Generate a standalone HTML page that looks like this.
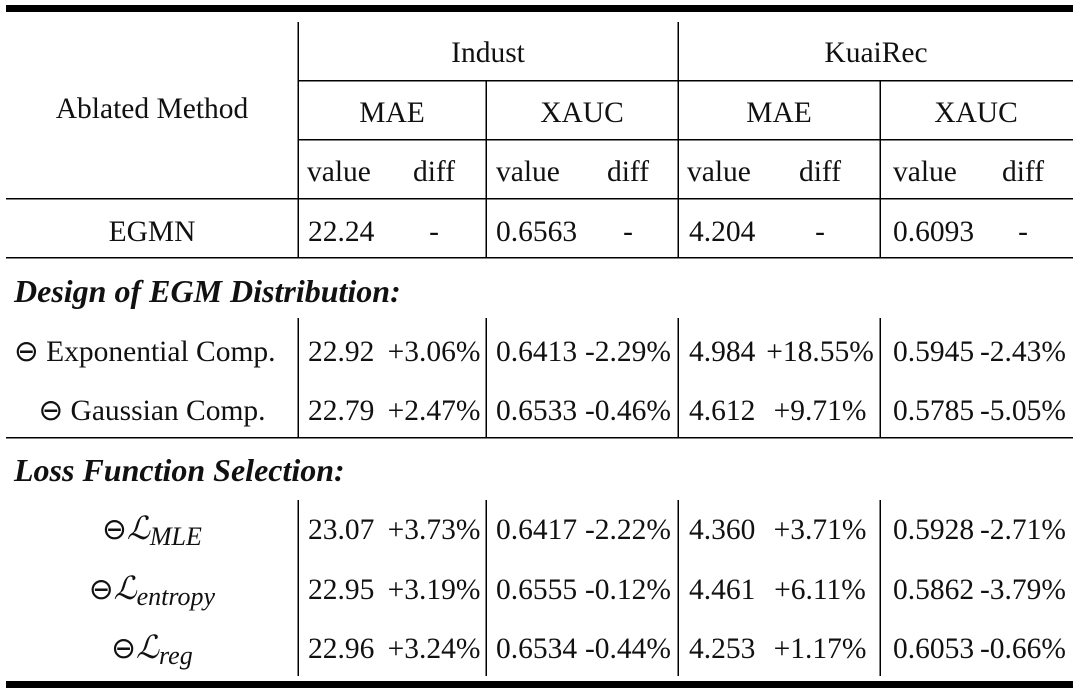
<!DOCTYPE html>
<html><head><meta charset="utf-8"><style>
html,body{margin:0;padding:0;background:#fff;}
svg text{font-family:"Liberation Serif",serif;font-size:29.5px;fill:#111;}
.c{text-anchor:middle;}
.b{font-weight:bold;font-style:italic;font-size:32px;}
</style></head><body>
<svg width="1080" height="694" viewBox="0 0 1080 694" xmlns="http://www.w3.org/2000/svg">
<g fill="#000">
<rect x="6" y="5" width="1067" height="7"/>
<rect x="6" y="681" width="1067" height="7"/>
<rect x="298" y="80" width="775" height="1.5"/>
<rect x="298" y="139" width="775" height="1.5"/>
<rect x="6" y="198" width="1067" height="1.5"/>
<rect x="6" y="257" width="1067" height="1.5"/>
<rect x="6" y="437" width="1067" height="1.5"/>
<rect x="297.5" y="22" width="1.5" height="236"/>
<rect x="677.5" y="22" width="1.5" height="236"/>
<rect x="485.5" y="80" width="1.5" height="178"/>
<rect x="879.5" y="80" width="1.5" height="178"/>
<rect x="297.5" y="318" width="1.5" height="120"/>
<rect x="485.5" y="318" width="1.5" height="120"/>
<rect x="677.5" y="318" width="1.5" height="120"/>
<rect x="879.5" y="318" width="1.5" height="120"/>
<rect x="297.5" y="500" width="1.5" height="176"/>
<rect x="485.5" y="500" width="1.5" height="176"/>
<rect x="677.5" y="500" width="1.5" height="176"/>
<rect x="879.5" y="500" width="1.5" height="176"/>
</g>
<text x="152" y="118" class="c">Ablated Method</text>
<text x="488" y="62" class="c">Indust</text>
<text x="876" y="62" class="c">KuaiRec</text>
<text x="392" y="122" class="c">MAE</text>
<text x="582" y="122" class="c">XAUC</text>
<text x="779" y="122" class="c">MAE</text>
<text x="976" y="122" class="c">XAUC</text>
<g>
<text x="307" y="181">value</text><text x="434" y="181" class="c">diff</text>
<text x="496" y="181">value</text><text x="628" y="181" class="c">diff</text>
<text x="687" y="181">value</text><text x="820" y="181" class="c">diff</text>
<text x="893" y="181">value</text><text x="1023" y="181" class="c">diff</text>
</g>
<text x="152" y="241" class="c">EGMN</text>
<text x="308" y="241">22.24</text><text x="434" y="241" class="c">-</text>
<text x="496" y="241">0.6563</text><text x="628" y="241" class="c">-</text>
<text x="689" y="241">4.204</text><text x="820" y="241" class="c">-</text>
<text x="893" y="241">0.6093</text><text x="1023" y="241" class="c">-</text>
<text x="14" y="302" class="b">Design of EGM Distribution:</text>
<text x="14" y="361">⊖ Exponential Comp.</text>
<text x="308" y="361">22.92</text><text x="434" y="361" class="c">+3.06%</text>
<text x="496" y="361">0.6413</text><text x="628" y="361" class="c">-2.29%</text>
<text x="689" y="361">4.984</text><text x="820" y="361" class="c">+18.55%</text>
<text x="893" y="361">0.5945</text><text x="1023" y="361" class="c">-2.43%</text>
<text x="152" y="420" class="c">⊖ Gaussian Comp.</text>
<text x="308" y="420">22.79</text><text x="434" y="420" class="c">+2.47%</text>
<text x="496" y="420">0.6533</text><text x="628" y="420" class="c">-0.46%</text>
<text x="689" y="420">4.612</text><text x="820" y="420" class="c">+9.71%</text>
<text x="893" y="420">0.5785</text><text x="1023" y="420" class="c">-5.05%</text>
<text x="14" y="481" class="b">Loss Function Selection:</text>
<text x="152" y="539" class="c">⊖<tspan font-style="italic" font-size="32">ℒ</tspan><tspan font-style="italic" font-size="26" dy="6">MLE</tspan></text>
<text x="308" y="539">23.07</text><text x="434" y="539" class="c">+3.73%</text>
<text x="496" y="539">0.6417</text><text x="628" y="539" class="c">-2.22%</text>
<text x="689" y="539">4.360</text><text x="820" y="539" class="c">+3.71%</text>
<text x="893" y="539">0.5928</text><text x="1023" y="539" class="c">-2.71%</text>
<text x="152" y="599" class="c">⊖<tspan font-style="italic" font-size="32">ℒ</tspan><tspan font-style="italic" font-size="26" dy="6">entropy</tspan></text>
<text x="308" y="599">22.95</text><text x="434" y="599" class="c">+3.19%</text>
<text x="496" y="599">0.6555</text><text x="628" y="599" class="c">-0.12%</text>
<text x="689" y="599">4.461</text><text x="820" y="599" class="c">+6.11%</text>
<text x="893" y="599">0.5862</text><text x="1023" y="599" class="c">-3.79%</text>
<text x="152" y="658" class="c">⊖<tspan font-style="italic" font-size="32">ℒ</tspan><tspan font-style="italic" font-size="26" dy="6">reg</tspan></text>
<text x="308" y="658">22.96</text><text x="434" y="658" class="c">+3.24%</text>
<text x="496" y="658">0.6534</text><text x="628" y="658" class="c">-0.44%</text>
<text x="689" y="658">4.253</text><text x="820" y="658" class="c">+1.17%</text>
<text x="893" y="658">0.6053</text><text x="1023" y="658" class="c">-0.66%</text>
</svg>
</body></html>
